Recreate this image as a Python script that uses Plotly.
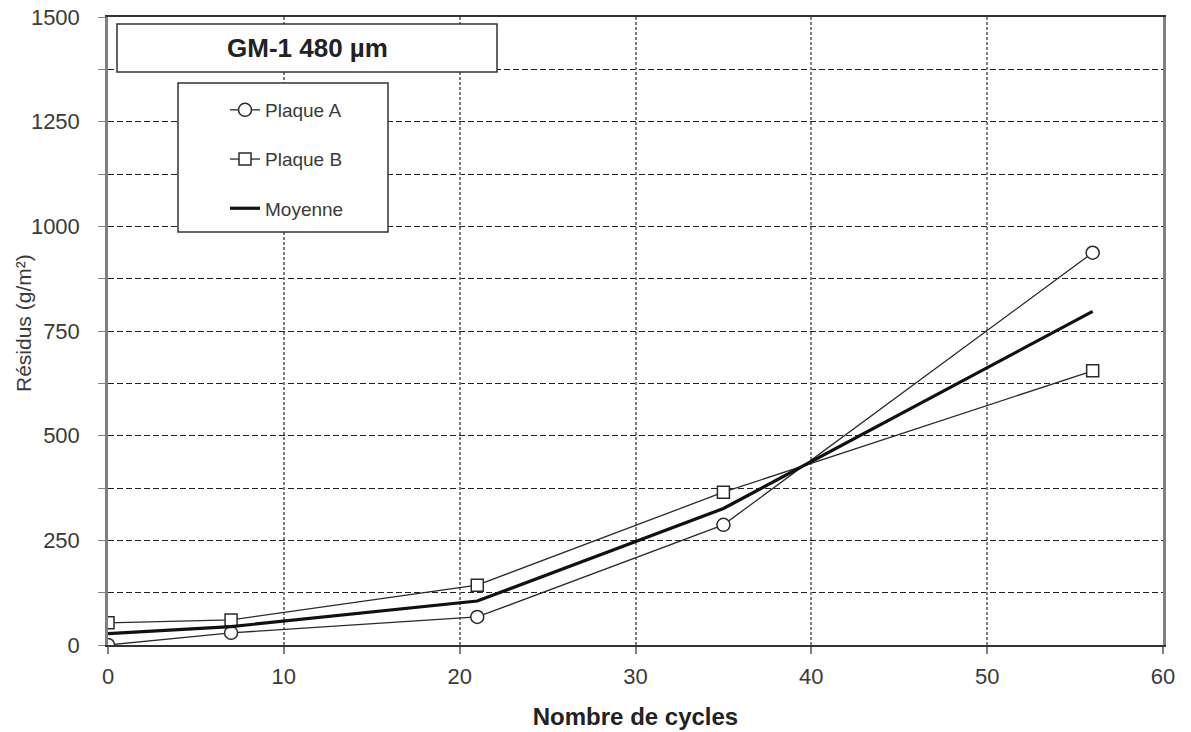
import plotly.graph_objects as go

# Cycles and measured residue (g/m²)
cycles = [0, 7, 21, 35, 56]
plaque_a = [0, 29, 67, 287, 937]
plaque_b = [53, 60, 143, 365, 655]
moyenne = [27, 44, 105, 326, 797]

x_ticks = [0, 10, 20, 30, 40, 50, 60]
y_ticks = [0, 250, 500, 750, 1000, 1250, 1500]

W, H = 1191, 732
L, R, T, B = 108, 28, 17, 87
pw, ph = W - L - R, H - T - B


def px(xp):
    return (xp - L) / pw


def py(yp):
    return (H - B - yp) / ph


fig = go.Figure()

fig.add_trace(go.Scatter(
    x=cycles, y=plaque_a, name="Plaque A", mode="lines+markers",
    line=dict(color="#2a2a2a", width=1.3),
    marker=dict(symbol="circle", size=13, color="white", line=dict(width=1.5, color="#2a2a2a")),
    legendgroup="a",
))
fig.add_trace(go.Scatter(
    x=cycles, y=plaque_b, name="Plaque B", mode="lines+markers",
    line=dict(color="#2a2a2a", width=1.3),
    marker=dict(symbol="square", size=12, color="white", line=dict(width=1.5, color="#2a2a2a")),
    legendgroup="b",
))
fig.add_trace(go.Scatter(
    x=cycles, y=moyenne, name="Moyenne", mode="lines",
    line=dict(color="#111111", width=3.2),
    legendgroup="m",
))

axis_font = dict(family="Liberation Sans, Arial", size=22, color="#3a3a3a")

fig.update_xaxes(
    range=[0, 60], tickvals=x_ticks, ticktext=[str(v) for v in x_ticks],
    showgrid=True, gridcolor="#808080", gridwidth=2, griddash="3px,2px",
    ticks="outside", ticklen=7, tickcolor="#808080", tickwidth=2, ticklabelstandoff=4,
    showline=True, linecolor="#333333", linewidth=2, mirror=True,
    tickfont=axis_font, zeroline=False, automargin=False,
    title=dict(text="<b>Nombre de cycles</b>",
               font=dict(family="Liberation Sans, Arial", size=24, color="#222222"), standoff=20),
)
fig.update_yaxes(
    range=[0, 1500], tickvals=y_ticks, ticktext=[str(v) for v in y_ticks],
    showgrid=True, gridcolor="#222222", gridwidth=1, griddash="6px,3px",
    minor=dict(dtick=125, tick0=0, showgrid=True, gridcolor="#222222", gridwidth=1, griddash="6px,3px",
               ticks="outside", ticklen=7, tickcolor="#808080"),
    ticks="outside", ticklen=7, tickcolor="#808080", ticklabelstandoff=14,
    showline=True, linecolor="#808080", linewidth=2.5, mirror=True,
    tickfont=axis_font, zeroline=False, automargin=False,
)

# Y-axis title, rotated, sitting left of the tick labels
fig.add_annotation(xref="paper", yref="paper", x=px(23), y=py(323),
                   xanchor="center", yanchor="middle", textangle=-90,
                   text="Résidus (g/m²)", showarrow=False,
                   font=dict(family="Liberation Sans, Arial", size=21, color="#3a3a3a"))

# Framed title box inside the plot
fig.add_shape(type="rect", xref="paper", yref="paper",
              x0=px(117), x1=px(497), y0=py(72), y1=py(24),
              line=dict(color="#333333", width=1.5), fillcolor="white", layer="above")
fig.add_annotation(xref="paper", yref="paper", x=(px(117) + px(497)) / 2, y=(py(72) + py(24)) / 2,
                   xanchor="center", yanchor="middle",
                   text="<b>GM-1 480 µm</b>", showarrow=False,
                   font=dict(family="Liberation Sans, Arial", size=26, color="#222222"))

# Legend frame
fig.add_shape(type="rect", xref="paper", yref="paper",
              x0=px(178), x1=px(388), y0=py(232), y1=py(83),
              line=dict(color="#333333", width=1.5), fillcolor="white", layer="above")

fig.update_layout(
    width=W, height=H,
    margin=dict(l=L, r=R, t=T, b=B),
    paper_bgcolor="white", plot_bgcolor="white",
    showlegend=True,
    legend=dict(
        x=px(225), y=py(91), xanchor="left", yanchor="top",
        bgcolor="rgba(0,0,0,0)", borderwidth=0,
        traceorder="grouped", tracegroupgap=21.5,
        font=dict(family="Liberation Sans, Arial", size=19, color="#3a3a3a"),
        itemwidth=30,
    ),
)

fig.write_html("out.html")
